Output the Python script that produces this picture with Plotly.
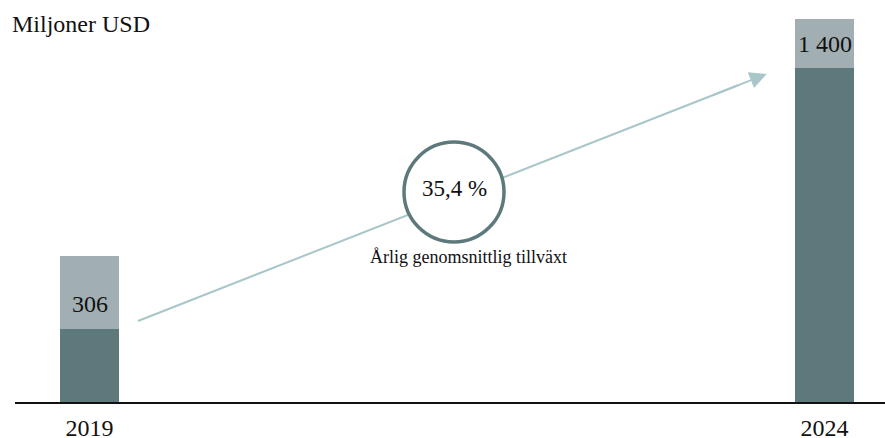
import plotly.graph_objects as go

# ---- data ----
years = [2019, 2024]
total_labels = ["306", "1 400"]          # value labels shown on the bars (millions USD)
# drawn segment heights as shown in the (not-to-scale) reference, in axis units
dark_seg = [73, 334]
light_seg = [73, 49]
cagr_label = "35,4 %"
cagr_caption = "Årlig genomsnittlig tillväxt"
unit_label = "Miljoner USD"

DARK = "#5e797c"
LIGHT = "#a1afb2"
ARROW = "#a9c6c8"
FONT = "Liberation Serif"

W, H = 885, 438
PLOT_H = 402  # plot area height in px (margin bottom = 36)

def px(x):
    return x / W

def py(y):
    return 1 - y / PLOT_H

fig = go.Figure()
fig.add_trace(go.Bar(x=years, y=dark_seg, marker=dict(color=DARK, line=dict(width=0)),
                     width=0.4014, hoverinfo="skip"))
fig.add_trace(go.Bar(x=years, y=light_seg, marker=dict(color=LIGHT, line=dict(width=0)),
                     width=0.4014, hoverinfo="skip"))

# value labels
label_y = [98, 358.5]
for x, t, yy in zip(years, total_labels, label_y):
    fig.add_annotation(x=x, y=yy, xref="x", yref="y", text=t, showarrow=False,
                       font=dict(family=FONT, size=24, color="#111"),
                       xanchor="center", yanchor="middle")

# growth arrow: line + head
tail = (138, 321)
tip = (766.7, 74)
ux, uy = 0.9309, -0.3653
line_end = (tip[0] - 30 * ux, tip[1] - 30 * uy)
fig.add_shape(type="line", xref="paper", yref="paper",
              x0=px(tail[0]), y0=py(tail[1]), x1=px(line_end[0]), y1=py(line_end[1]),
              line=dict(color=ARROW, width=2))
fig.add_annotation(xref="paper", yref="paper", x=px(tip[0]), y=py(tip[1]),
                   axref="pixel", ayref="pixel", ax=-60 * ux, ay=-60 * uy,
                   text="", showarrow=True, arrowhead=2, arrowsize=1.7,
                   arrowwidth=2, arrowcolor=ARROW)

# circle
cx, cy, r = 454, 192, 50
fig.add_shape(type="circle", xref="paper", yref="paper",
              x0=px(cx - r), x1=px(cx + r), y0=py(cy + r), y1=py(cy - r),
              line=dict(color=DARK, width=3.5), fillcolor="white", layer="above")
fig.add_annotation(xref="paper", yref="paper", x=px(cx), y=py(188), text=cagr_label,
                   showarrow=False, font=dict(family=FONT, size=23, color="#111"),
                   xanchor="center", yanchor="middle")
fig.add_annotation(xref="paper", yref="paper", x=px(468.5), y=py(257), text=cagr_caption,
                   showarrow=False, font=dict(family=FONT, size=18, color="#111"),
                   xanchor="center", yanchor="middle")
fig.add_annotation(xref="paper", yref="paper", x=px(10), y=py(24), text=unit_label,
                   showarrow=False, font=dict(family=FONT, size=24, color="#111"),
                   xanchor="left", yanchor="middle")

fig.update_layout(
    width=W, height=H, barmode="stack", showlegend=False,
    margin=dict(l=0, r=0, t=0, b=H - PLOT_H, pad=0, autoexpand=False),
    paper_bgcolor="white", plot_bgcolor="white",
    font=dict(family=FONT, size=24, color="#111"),
    xaxis=dict(domain=[15 / W, 1], range=[2018.4932, 2024.4116], tickvals=years,
               ticktext=[str(y) for y in years], showgrid=False, zeroline=False,
               showline=True, linecolor="#111", linewidth=2, ticks="",
               ticklabelstandoff=3, automargin=False,
               tickfont=dict(family=FONT, size=24, color="#111"), fixedrange=True),
    yaxis=dict(range=[0, PLOT_H], visible=False, fixedrange=True, automargin=False),
)

fig.write_html("out.html", config={"displayModeBar": False},
               post_script="document.body.style.margin='0px';document.body.style.overflow='hidden';")
